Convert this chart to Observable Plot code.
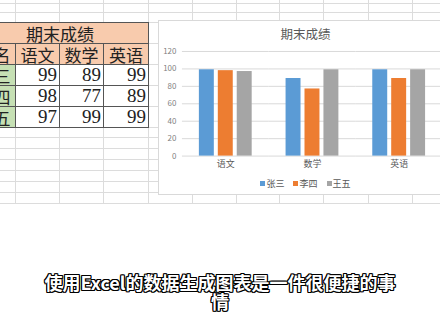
<!DOCTYPE html>
<html>
<head>
<meta charset="utf-8">
<script src="https://cdn.jsdelivr.net/npm/d3@7"></script>
<script src="https://cdn.jsdelivr.net/npm/@observablehq/plot@0.6"></script>
<style>
  html, body { margin: 0; padding: 0; background: #fff; }
  body { width: 440px; height: 330px; overflow: hidden; position: relative; font-family: "Noto Sans CJK SC", sans-serif; }
  .gl { position: absolute; background: #dcdcdc; }
  .cell { position: absolute; box-sizing: border-box; border: 1px solid #555; display: flex; align-items: center; overflow: hidden; white-space: nowrap; color: #222; }
  .peach { background: #f8cbad; justify-content: center; font-size: 17px; }
  .green { background: #c6e0b4; justify-content: center; font-size: 17px; }
  .num { background: #fff; justify-content: flex-end; padding-right: 2px; font-family: "Liberation Serif", serif; font-size: 19px; }
  #box { position: absolute; left: 158px; top: 20px; width: 295px; height: 175px; background: #fff; border: 1px solid #d9d9d9; box-sizing: border-box; }
  #ctitle { position: absolute; left: 0; width: 100%; top: 3px; text-align: center; font-size: 12.5px; color: #595959; }
  #plot { position: absolute; left: -1px; top: 23px; }
  #legend { position: absolute; left: 0; width: 100%; top: 156px; display: flex; justify-content: center; gap: 9px; font-size: 9px; color: #595959; }
  #legend span.sw { display: inline-block; width: 5px; height: 5px; margin-right: 1px; vertical-align: 1px; }
  #caption { position: absolute; left: 0; width: 440px; top: 273px; text-align: center; font-size: 18px; line-height: 19px; font-weight: bold; color: #fff;
    text-shadow: -1px -1px 0 #000, 1px -1px 0 #000, -1px 1px 0 #000, 1px 1px 0 #000, 0 -1px 0 #000, 0 1px 0 #000, -1px 0 0 #000, 1px 0 0 #000; }
</style>
</head>
<body>
<div id="sheet"></div>
<div id="box">
  <div id="ctitle"></div>
  <div id="plot"></div>
  <div id="legend"></div>
</div>
<div id="caption">使用Excel的数据生成图表是一件很便捷的事<br>情</div>
<script>
const chartTitle = "期末成绩";
const subjects = ["语文", "数学", "英语"];
const students = ["张三", "李四", "王五"];
const zhangsan = [99, 89, 99];
const lisi = [98, 77, 89];
const wangwu = [97, 99, 99];
const yTicks = [0, 20, 40, 60, 80, 100, 120];
const colors = ["#5b9bd5", "#ed7d31", "#a5a5a5"];

const series = [zhangsan, lisi, wangwu];

// spreadsheet backdrop
const sheet = document.getElementById("sheet");
const colLines = [15, 59, 103, 148, 192, 236, 279, 323, 368, 412];
const rowLines = [3, 12, 22, 43, 64, 85, 106, 127, 137, 148, 159, 170, 181, 192, 203];
for (const x of colLines) {
  const d = document.createElement("div"); d.className = "gl";
  Object.assign(d.style, {left: x + "px", top: "0px", width: "1px", height: "204px"});
  sheet.appendChild(d);
}
for (const y of rowLines) {
  const d = document.createElement("div"); d.className = "gl";
  Object.assign(d.style, {left: "0px", top: y + "px", width: "440px", height: "1px"});
  sheet.appendChild(d);
}
function cell(cls, text, x0, x1, y0, y1) {
  const d = document.createElement("div");
  d.className = "cell " + cls;
  Object.assign(d.style, {left: x0 + "px", top: y0 + "px", width: (x1 - x0 + 1) + "px", height: (y1 - y0 + 1) + "px"});
  d.textContent = text;
  sheet.appendChild(d);
}
const cx = [-29, 15, 59, 103, 148];
const ry = [22, 43, 64, 85, 106, 127];
cell("peach", chartTitle, cx[0], cx[4], ry[0], ry[1]);
cell("peach", "姓名", cx[0], cx[1], ry[1], ry[2]);
subjects.forEach((s, i) => cell("peach", s, cx[i + 1], cx[i + 2], ry[1], ry[2]));
students.forEach((n, j) => {
  cell("green", n, cx[0], cx[1], ry[j + 2], ry[j + 3]);
  subjects.forEach((s, i) => cell("num", series[j][i], cx[i + 1], cx[i + 2], ry[j + 2], ry[j + 3]));
});

// chart
document.getElementById("ctitle").textContent = chartTitle;
const rows = subjects.flatMap((s, i) => students.map((n, j) => ({subject: s, student: n, score: series[j][i]})));

const chart = Plot.plot({
  width: 295,
  height: 130,
  marginLeft: 24,
  marginRight: 10,
  marginTop: 7,
  marginBottom: 18,
  style: {fontFamily: "'Noto Sans CJK SC', sans-serif", fontSize: "8px", color: "#595959", background: "transparent", overflow: "visible"},
  fx: {domain: subjects, padding: 0, label: null},
  x: {domain: students, paddingInner: 0.23, paddingOuter: 0.845, axis: null},
  y: {domain: [0, 120], label: null},
  color: {domain: students, range: colors},
  marks: [
    Plot.gridY(yTicks, {stroke: "#d9d9d9", strokeOpacity: 1}),
    Plot.axisY(yTicks, {tickSize: 0, tickPadding: 6, label: null, fill: "#7f7f7f", fontSize: 8}),
    Plot.axisFx({anchor: "bottom", tickSize: 0, tickPadding: 5, label: null, fontSize: 9, fill: "#595959"}),
    Plot.barY(rows, {fx: "subject", x: "student", y: "score", fill: "student"})
  ]
});
document.getElementById("plot").appendChild(chart);

// legend
const legend = document.getElementById("legend");
students.forEach((n, j) => {
  const item = document.createElement("div");
  const sw = document.createElement("span");
  sw.className = "sw"; sw.style.background = colors[j];
  item.appendChild(sw);
  item.appendChild(document.createTextNode(n));
  legend.appendChild(item);
});
</script>
</body>
</html>
